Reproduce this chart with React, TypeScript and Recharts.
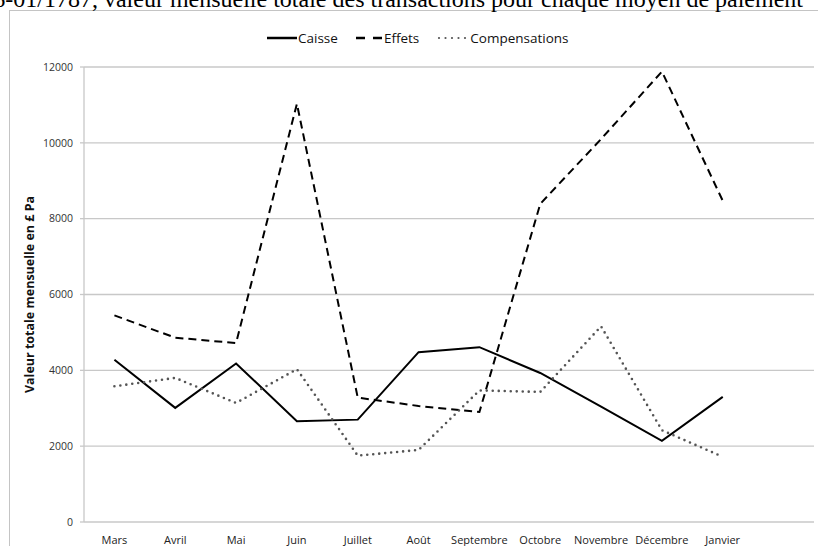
import React from 'react';
import { LineChart, Line, XAxis, YAxis, CartesianGrid, Legend } from 'recharts';

const months = ['Mars', 'Avril', 'Mai', 'Juin', 'Juillet', 'Août', 'Septembre', 'Octobre', 'Novembre', 'Décembre', 'Janvier', ''];
const caisse = [4280, 3010, 4180, 2660, 2700, 4480, 4610, 3930, 3040, 2140, 3300, null];
const effets = [5450, 4860, 4720, 11030, 3280, 3060, 2900, 8390, 10100, 11880, 8470, null];
const compensations = [3580, 3800, 3140, 4030, 1750, 1900, 3470, 3430, 5160, 2420, 1720, null];
const yTicks = [0, 2000, 4000, 6000, 8000, 10000, 12000];
const edgeTicks = months.map((_, i) => i).concat(months.length);

const title = '1786-01/1787, valeur mensuelle totale des transactions pour chaque moyen de paiement';
const yLabel = 'Valeur totale mensuelle en £ Pa';

const data = months.map((m, i) => ({
  month: m,
  Caisse: caisse[i],
  Effets: effets[i],
  Compensations: compensations[i],
}));

const FONT = '"Open Sans", sans-serif';
const GRID = '#c8c8c8';

function LegendContent() {
  const item = { display: 'flex', alignItems: 'center', marginRight: 18 } as const;
  const txt = { fontFamily: FONT, fontSize: 13.5, color: '#111', marginLeft: 1 };
  return (
    <div style={{ display: 'flex', alignItems: 'center' }}>
      <div style={item}>
        <svg width={30} height={8}><line x1={0} y1={4} x2={30} y2={4} stroke="#000" strokeWidth={2.5} /></svg>
        <span style={txt}>Caisse</span>
      </div>
      <div style={item}>
        <svg width={27} height={8}><line x1={0} y1={4} x2={27} y2={4} stroke="#000" strokeWidth={2.5} strokeDasharray="9 8" /></svg>
        <span style={txt}>Effets</span>
      </div>
      <div style={item}>
        <svg width={32} height={8}><line x1={2} y1={4} x2={32} y2={4} stroke="#555" strokeWidth={2.2} strokeLinecap="round" strokeDasharray="0 6.5" /></svg>
        <span style={txt}>Compensations</span>
      </div>
    </div>
  );
}

export default function App() {
  return (
    <div style={{ position: 'fixed', left: 0, top: 0, width: 818, height: 546, overflow: 'hidden', background: '#fff' }}>
      <div style={{ position: 'absolute', left: 9, top: 10, width: 900, height: 600, border: '1.5px solid #c4c4c4', boxSizing: 'border-box' }} />
      <div style={{ position: 'absolute', right: 15, top: -13, whiteSpace: 'nowrap', fontFamily: '"Liberation Serif", serif', fontSize: 24, lineHeight: '24px', color: '#000' }}>
        {title}
      </div>
      <div style={{ position: 'absolute', left: 0, top: 0 }}>
        <LineChart width={818} height={546} data={data} margin={{ top: 67, right: 4, bottom: 0, left: 0 }}>
          <CartesianGrid xAxisId="edge" vertical={false} stroke={GRID} strokeWidth={1.3} />
          <XAxis
            xAxisId="edge"
            type="number"
            domain={[0, months.length]}
            ticks={edgeTicks}
            tick={false}
            height={0}
            tickSize={5}
            stroke={GRID}
            strokeWidth={1.3}
          />
          <XAxis
            xAxisId="cat"
            dataKey="month"
            scale="band"
            height={24}
            axisLine={false}
            tickLine={false}
            tickSize={0}
            tickMargin={14}
            interval={0}
            tick={{ fill: '#222', fontSize: 11, fontFamily: FONT }}
          />
          <YAxis
            width={84}
            domain={[0, 12000]}
            ticks={yTicks}
            tickSize={4}
            tickMargin={7}
            stroke={GRID}
            strokeWidth={1.3}
            tick={{ fill: '#333', fontSize: 10.5, fontFamily: FONT }}
            label={{ value: yLabel, angle: -90, position: 'insideLeft', offset: 30, style: { textAnchor: 'middle', fontFamily: FONT, fontSize: 12.5, fontWeight: 700, fill: '#111' } }}
          />
          <Legend
            verticalAlign="middle"
            align="center"
            layout="horizontal"
            content={<LegendContent />}
            wrapperStyle={{ top: 29, left: 267, width: 'auto' }}
          />
          <Line xAxisId="cat" type="linear" dataKey="Caisse" stroke="#000" strokeWidth={2} dot={false} isAnimationActive={false} />
          <Line xAxisId="cat" type="linear" dataKey="Effets" stroke="#000" strokeWidth={2} strokeDasharray="8 5" dot={false} isAnimationActive={false} />
          <Line xAxisId="cat" type="linear" dataKey="Compensations" stroke="#555" strokeWidth={2.6} strokeLinecap="round" strokeDasharray="0 6" dot={false} isAnimationActive={false} />
        </LineChart>
      </div>
    </div>
  );
}
